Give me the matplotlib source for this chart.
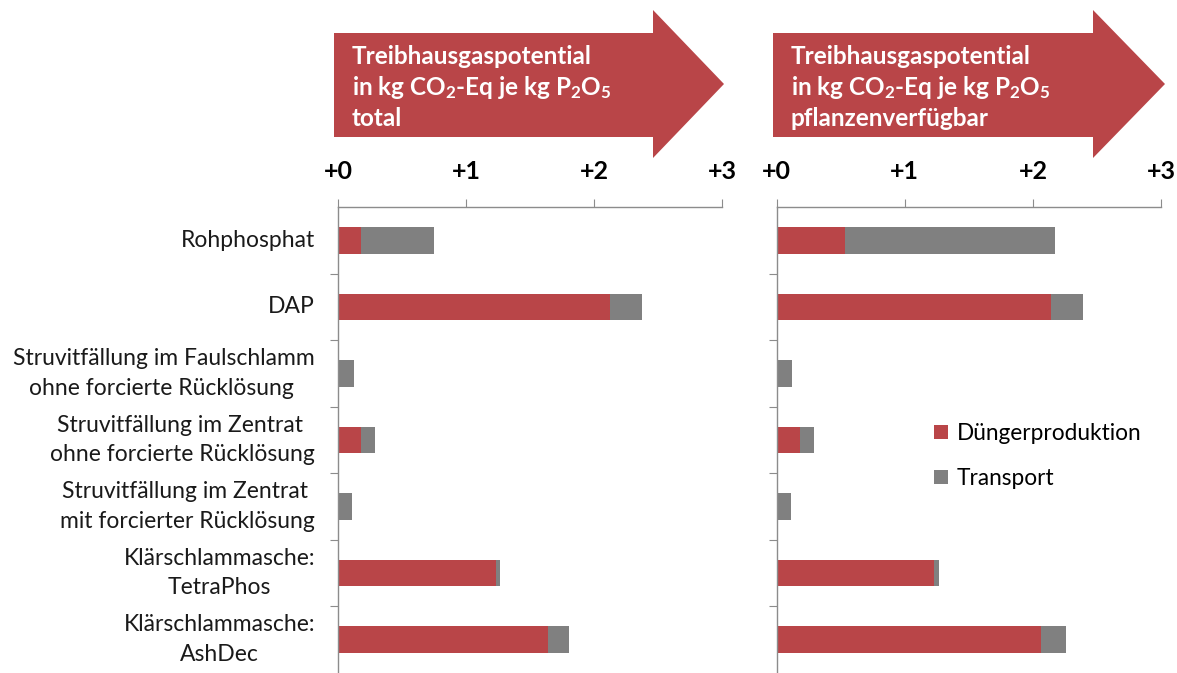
import matplotlib
matplotlib.use("Agg")
import matplotlib.pyplot as plt
from matplotlib.patches import Polygon
import numpy as np

plt.rcParams['font.family'] = ['Lato', 'DejaVu Sans']
plt.rcParams['mathtext.fontset'] = 'custom'
plt.rcParams['mathtext.default'] = 'regular'

categories = ["Rohphosphat", "DAP",
              "Struvitfällung im Faulschlamm\nohne forcierte Rücklösung ",
              "Struvitfällung im Zentrat \nohne forcierte Rücklösung",
              "Struvitfällung im Zentrat \nmit forcierter Rücklösung",
              "Klärschlammasche:\nTetraPhos",
              "Klärschlammasche:\nAshDec"]
series = ["Düngerproduktion", "Transport"]
total_dung = [0.18, 2.12, 0.0, 0.18, 0.0, 1.23, 1.64]
total_trans = [0.57, 0.25, 0.12, 0.11, 0.11, 0.03, 0.16]
avail_dung = [0.53, 2.14, 0.0, 0.18, 0.0, 1.23, 2.06]
avail_trans = [1.64, 0.25, 0.12, 0.11, 0.11, 0.04, 0.20]
xticks = [0, 1, 2, 3]
xticklabels = ["+0", "+1", "+2", "+3"]
titles = ["Treibhausgaspotential\nin kg CO$_2$-Eq je kg P$_2$O$_5$\ntotal",
          "Treibhausgaspotential\nin kg CO$_2$-Eq je kg P$_2$O$_5$\npflanzenverfügbar"]

RED = "#B94548"
GRAY = "#808080"
AXC = "#8C8C8C"

W, H = 1177, 673
fig = plt.figure(figsize=(W / 100, H / 100), dpi=100)

def fx(px):
    return px / W

def fy(py):
    return 1 - py / H

top_px, bot_px = 207, 673
panels = [(338.3, 722.3, total_dung, total_trans), (776.7, 1161.0, avail_dung, avail_trans)]
axes = []
for (x0, x1, d, t) in panels:
    ax = fig.add_axes([fx(x0), fy(bot_px), fx(x1) - fx(x0), (bot_px - top_px) / H])
    y = np.arange(len(categories))
    ax.barh(y, d, height=0.4, color=RED, label=series[0])
    ax.barh(y, t, left=d, height=0.4, color=GRAY, label=series[1])
    ax.set_xlim(0, 3)
    ax.set_ylim(len(categories) - 0.5, -0.5)
    for s in ['right', 'bottom']:
        ax.spines[s].set_visible(False)
    for s in ['top', 'left']:
        ax.spines[s].set_color(AXC)
        ax.spines[s].set_linewidth(1.0)
    ax.xaxis.set_ticks_position('top')
    ax.set_xticks(xticks)
    ax.set_xticklabels(xticklabels, fontsize=18, fontweight='bold')
    ax.tick_params(axis='x', direction='out', length=6, color=AXC, pad=11)
    ax.set_yticks(np.arange(len(categories) - 1) + 0.5)
    ax.set_yticklabels([])
    ax.tick_params(axis='y', direction='out', length=6, color=AXC)
    ax.patch.set_alpha(0)
    axes.append(ax)

# category labels
for i, c in enumerate(categories):
    axes[0].text(-(338.3 - 315) / (722.3 - 338.3), i, c,
                 transform=axes[0].get_yaxis_transform(),
                 ha='right', va='center', multialignment='center',
                 fontsize=16.5, color='#1a1a1a', linespacing=1.5)

# arrows
arrows = [(334, 653, 724), (773, 1093, 1165)]
for (xa, xb, xt), title in zip(arrows, titles):
    pts = [(xa, 33), (xb, 33), (xb, 10), (xt, 84), (xb, 158), (xb, 137), (xa, 137)]
    poly = Polygon([(fx(px), fy(py)) for px, py in pts], closed=True,
                   transform=fig.transFigure, facecolor=RED, edgecolor='none')
    fig.patches.append(poly)
    fig.text(fx(xa + 18), fy(87), title, ha='left', va='center', color='white',
             fontsize=17.5, fontweight='bold', linespacing=1.3)

# legend
h, l = axes[1].get_legend_handles_labels()
fig.legend(h, l, loc='center left', bbox_to_anchor=(fx(925), fy(456)),
           frameon=False, fontsize=16.3, handlelength=0.6, handleheight=0.6,
           handletextpad=0.4, labelspacing=1.05, borderaxespad=0)

fig.savefig("out.png", dpi=100)
